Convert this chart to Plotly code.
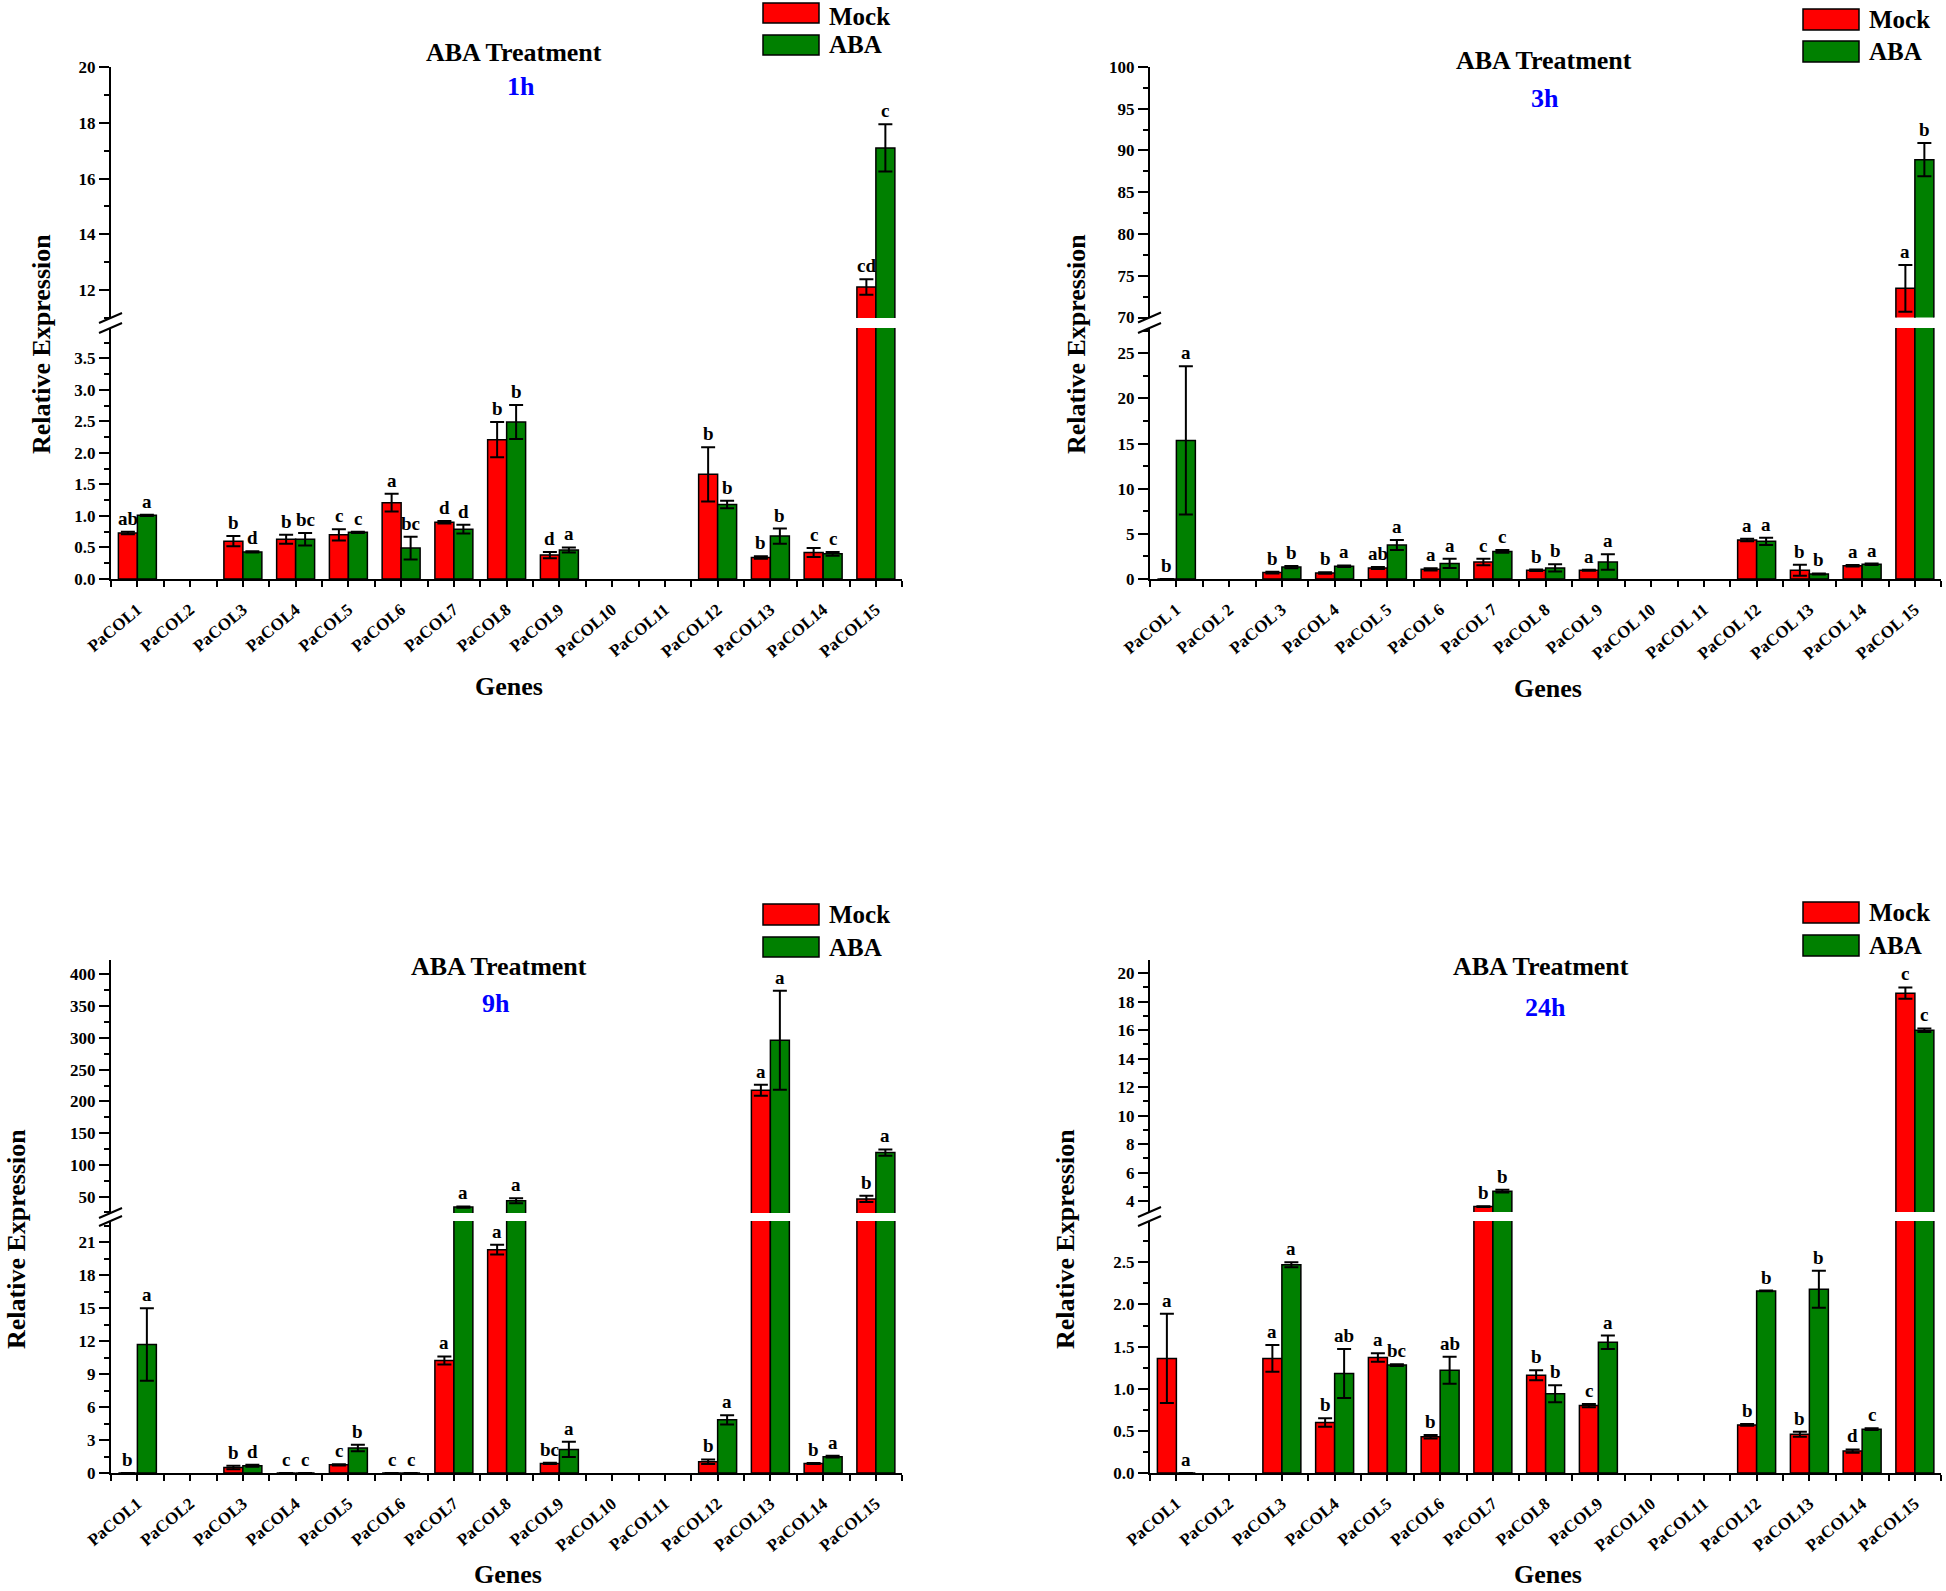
import plotly.graph_objects as go

W, H = 1946, 1591
FONT = "Liberation Serif"

# ---------------- data ----------------
genes = ["PaCOL1", "PaCOL2", "PaCOL3", "PaCOL4", "PaCOL5", "PaCOL6", "PaCOL7", "PaCOL8",
         "PaCOL9", "PaCOL10", "PaCOL11", "PaCOL12", "PaCOL13", "PaCOL14", "PaCOL15"]
genes_sp = ["PaCOL 1", "PaCOL 2", "PaCOL 3", "PaCOL 4", "PaCOL 5", "PaCOL 6", "PaCOL 7", "PaCOL 8",
            "PaCOL 9", "PaCOL 10", "PaCOL 11", "PaCOL 12", "PaCOL 13", "PaCOL 14", "PaCOL 15"]

# 1h
mock_1h = [0.73, None, 0.60, 0.63, 0.70, 1.21, 0.90, 2.21, 0.38, None, None, 1.66, 0.34, 0.42, 12.11]
mock_1h_err = [0.02, None, 0.08, 0.07, 0.09, 0.14, 0.02, 0.28, 0.05, None, None, 0.43, 0.02, 0.07, 0.28]
aba_1h = [1.01, None, 0.43, 0.63, 0.74, 0.49, 0.79, 2.49, 0.46, None, None, 1.18, 0.68, 0.40, 17.10]
aba_1h_err = [0.01, None, 0.01, 0.10, 0.01, 0.18, 0.07, 0.27, 0.04, None, None, 0.06, 0.12, 0.03, 0.85]
mock_1h_let = ["ab", "", "b", "b", "c", "a", "d", "b", "d", "", "", "b", "b", "c", "cd"]
aba_1h_let = ["a", "", "d", "bc", "c", "bc", "d", "b", "a", "", "", "b", "b", "c", "c"]

# 3h
mock_3h = [0, None, 0.71, 0.66, 1.22, 1.07, 1.88, 0.97, 0.97, None, None, 4.32, 0.97, 1.47, 73.5]
mock_3h_err = [0, None, 0.10, 0.08, 0.12, 0.12, 0.35, 0.08, 0.06, None, None, 0.15, 0.60, 0.08, 2.8]
aba_3h = [15.35, None, 1.32, 1.42, 3.76, 1.73, 3.05, 1.22, 1.88, None, None, 4.17, 0.56, 1.63, 88.9]
aba_3h_err = [8.2, None, 0.12, 0.08, 0.56, 0.50, 0.15, 0.40, 0.86, None, None, 0.40, 0.05, 0.08, 2.0]
mock_3h_let = ["b", "", "b", "b", "ab", "a", "c", "b", "a", "", "", "a", "b", "a", "a"]
aba_3h_let = ["a", "", "b", "a", "a", "a", "c", "b", "a", "", "", "a", "b", "a", "b"]

# 9h
mock_9h = [0, None, 0.50, 0, 0.74, 0, 10.25, 20.34, 0.87, None, None, 1.03, 217.5, 0.87, 46.4]
mock_9h_err = [0, None, 0.15, 0, 0.06, 0, 0.37, 0.45, 0.06, None, None, 0.20, 8.6, 0.05, 5.0]
aba_9h = [11.7, None, 0.66, 0, 2.27, 0, 33.5, 43.6, 2.15, None, None, 4.84, 296.2, 1.49, 119.4]
aba_9h_err = [3.3, None, 0.10, 0, 0.30, 0, 1.0, 4.0, 0.70, None, None, 0.42, 78.0, 0.07, 5.0]
mock_9h_let = ["b", "", "b", "c", "c", "c", "a", "a", "bc", "", "", "b", "a", "b", "b"]
aba_9h_let = ["a", "", "d", "c", "b", "c", "a", "a", "a", "", "", "a", "a", "a", "a"]

# 24h
mock_24h = [1.36, None, 1.36, 0.60, 1.37, 0.43, 3.62, 1.16, 0.80, None, None, 0.57, 0.46, 0.26, 18.6]
mock_24h_err = [0.53, None, 0.16, 0.05, 0.05, 0.02, 0.03, 0.06, 0.02, None, None, 0.01, 0.03, 0.02, 0.40]
aba_24h = [0, None, 2.47, 1.18, 1.28, 1.22, 4.70, 0.94, 1.55, None, None, 2.16, 2.18, 0.52, 16.0]
aba_24h_err = [0, None, 0.03, 0.29, 0.01, 0.16, 0.10, 0.10, 0.08, None, None, 0.005, 0.22, 0.01, 0.12]
mock_24h_let = ["a", "", "a", "b", "a", "b", "b", "b", "c", "", "", "b", "b", "d", "c"]
aba_24h_let = ["a", "", "a", "ab", "bc", "ab", "b", "b", "a", "", "", "b", "b", "c", "c"]

times = ["1h", "3h", "9h", "24h"]
series_names = ["Mock", "ABA"]

datasets = [
    dict(labels=genes, mock=mock_1h, mock_err=mock_1h_err, aba=aba_1h, aba_err=aba_1h_err,
         mock_let=mock_1h_let, aba_let=aba_1h_let),
    dict(labels=genes_sp, mock=mock_3h, mock_err=mock_3h_err, aba=aba_3h, aba_err=aba_3h_err,
         mock_let=mock_3h_let, aba_let=aba_3h_let),
    dict(labels=genes, mock=mock_9h, mock_err=mock_9h_err, aba=aba_9h, aba_err=aba_9h_err,
         mock_let=mock_9h_let, aba_let=aba_9h_let),
    dict(labels=genes, mock=mock_24h, mock_err=mock_24h_err, aba=aba_24h, aba_err=aba_24h_err,
         mock_let=mock_24h_let, aba_let=aba_24h_let),
]

# ---------------- geometry (pixels) ----------------
# leg = (box x0, box x1, mock box y0, y1, aba box y0, y1, text x, mock text y, aba text y)
geoms = [
    dict(x0=111, sp=52.75, up=(66.5, 318), lo=(328, 579),
         urange=[11.0, 20.02], udt=2, umin=1, ufmt="d",
         lrange=[0, 3.98], ldt=0.5, lmin=0.25, lfmt=".1f",
         title=(514, 52), sub=(521, 87), leg=(763, 819, 3, 23, 35, 55, 828, 17, 45),
         ytitle=(41, 344), xtitle=(509, 686)),
    dict(x0=1150, sp=52.75, up=(66.5, 317.5), lo=(328, 579),
         urange=[70, 100.05], udt=5, umin=2.5, ufmt="d",
         lrange=[0, 27.8], ldt=5, lmin=2.5, lfmt="d",
         title=(1544, 60), sub=(1545, 99), leg=(1803, 1859, 9, 30, 41, 62, 1868, 19.5, 51.5),
         ytitle=(1076, 344), xtitle=(1548, 688)),
    dict(x0=111, sp=52.75, up=(959.5, 1213), lo=(1221, 1473),
         urange=[24.2, 423.6], udt=50, umin=25, ufmt="d",
         lrange=[0, 22.95], ldt=3, lmin=1.5, lfmt="d",
         title=(499, 966), sub=(496, 1003), leg=(763, 819, 904, 925, 937, 957, 828, 914.5, 947),
         ytitle=(16, 1239), xtitle=(508, 1574)),
    dict(x0=1150, sp=52.75, up=(959.5, 1212), lo=(1221, 1473),
         urange=[3.24, 20.96], udt=2, umin=1, ufmt="d",
         lrange=[0, 2.99], ldt=0.5, lmin=0.25, lfmt=".1f",
         title=(1541, 966), sub=(1545, 1007), leg=(1803, 1859, 902, 923, 935, 956, 1868, 912.5, 945.5),
         ytitle=(1065, 1239), xtitle=(1548, 1574)),
]

RED = "#FF0000"
GREEN = "#008000"
BAR_OFF = 0.18


def px(x):
    return min(max(x / W, 0.0), 1.0)


def py(y):
    return min(max(1 - y / H, 0.0), 1.0)


def ax_name(kind, i):
    return kind if i == 1 else f"{kind}{i}"


fig = go.Figure()
layout = {}
annotations = []
shapes = []

tickfont = dict(family=FONT, size=17, color="black", weight="bold")

for p, (d, g) in enumerate(zip(datasets, geoms)):
    lo_i, up_i = 2 * p + 1, 2 * p + 2
    xs = list(range(len(d["labels"])))
    for name, color, vals, errs in [("Mock", RED, d["mock"], d["mock_err"]),
                                    ("ABA", GREEN, d["aba"], d["aba_err"])]:
        for ai in (lo_i, up_i):
            fig.add_trace(go.Bar(
                x=xs, y=vals, name=name,
                marker=dict(color=color, line=dict(color="black", width=1.5)),
                error_y=dict(type="data", array=errs, visible=True, color="black",
                             thickness=2, width=7),
                xaxis=ax_name("x", ai), yaxis=ax_name("y", ai),
                showlegend=False, hoverinfo="skip"))

    x1 = min(g["x0"] + 15 * g["sp"], W)
    xr = [-0.5, -0.5 + (x1 - g["x0"]) / g["sp"]]
    xdom = [px(g["x0"]), px(x1)]
    layout[ax_name("xaxis", lo_i)] = dict(
        domain=xdom, anchor=ax_name("y", lo_i), range=xr,
        tickmode="array", tickvals=xs, ticktext=d["labels"], tickangle=-40,
        ticks="outside", ticklen=6, tickwidth=2, tickcolor="black",
        showline=True, linewidth=2, linecolor="black", showgrid=False, zeroline=False,
        tickfont=tickfont, automargin=False, ticklabelstandoff=6,
        minor=dict(ticks="outside", tick0=-0.5, dtick=1, ticklen=6, tickwidth=2,
                   tickcolor="black", showgrid=False))
    layout[ax_name("xaxis", up_i)] = dict(
        domain=xdom, anchor=ax_name("y", up_i), range=xr, visible=False,
        showgrid=False, zeroline=False, automargin=False)
    common_y = dict(ticks="outside", ticklen=10, tickwidth=2, tickcolor="black",
                    showline=True, linewidth=2, linecolor="black", showgrid=False,
                    zeroline=False, tickfont=tickfont, automargin=False)
    layout[ax_name("yaxis", lo_i)] = dict(
        domain=[py(g["lo"][1]), py(g["lo"][0])], anchor=ax_name("x", lo_i),
        range=g["lrange"], tick0=0, dtick=g["ldt"], tickformat=g["lfmt"],
        minor=dict(ticks="outside", tick0=0, dtick=g["lmin"], ticklen=5, tickwidth=2,
                   tickcolor="black", showgrid=False),
        **common_y)
    layout[ax_name("yaxis", up_i)] = dict(
        domain=[py(g["up"][1]), py(g["up"][0])], anchor=ax_name("x", up_i),
        range=g["urange"], tick0=0, dtick=g["udt"], tickformat=g["ufmt"],
        minor=dict(ticks="outside", tick0=0, dtick=g["umin"], ticklen=5, tickwidth=2,
                   tickcolor="black", showgrid=False),
        **common_y)

    # significance letters
    ltop = g["lrange"][1]
    for vals, errs, lets, sgn in [(d["mock"], d["mock_err"], d["mock_let"], -1),
                                  (d["aba"], d["aba_err"], d["aba_let"], 1)]:
        for i, (v, e, t) in enumerate(zip(vals, errs, lets)):
            if v is None or not t:
                continue
            top = v + (e or 0)
            ai = lo_i if top <= ltop else up_i
            annotations.append(dict(
                x=i + sgn * BAR_OFF, y=top, xref=ax_name("x", ai), yref=ax_name("y", ai),
                text=t, showarrow=False, xanchor="center", yanchor="bottom", yshift=1,
                font=dict(family=FONT, size=19, color="black", weight="bold")))

    # break marks
    for yb in (g["up"][1], g["lo"][0]):
        shapes.append(dict(type="line", xref="paper", yref="paper",
                           x0=px(g["x0"] - 12), y0=py(yb + 5),
                           x1=px(g["x0"] + 11), y1=py(yb - 5),
                           line=dict(color="black", width=2)))

    # titles
    annotations.append(dict(x=px(g["title"][0]), y=py(g["title"][1]), xref="paper", yref="paper",
                            text="ABA Treatment", showarrow=False, xanchor="center", yanchor="middle",
                            font=dict(family=FONT, size=26, color="black", weight="bold")))
    annotations.append(dict(x=px(g["sub"][0]), y=py(g["sub"][1]), xref="paper", yref="paper",
                            text=times[p], showarrow=False, xanchor="center", yanchor="middle",
                            font=dict(family=FONT, size=26, color="#0000FF", weight="bold")))
    annotations.append(dict(x=px(g["ytitle"][0]), y=py(g["ytitle"][1]), xref="paper", yref="paper",
                            text="Relative Expression", textangle=-90, showarrow=False,
                            xanchor="center", yanchor="middle",
                            font=dict(family=FONT, size=26, color="black", weight="bold")))
    annotations.append(dict(x=px(g["xtitle"][0]), y=py(g["xtitle"][1]), xref="paper", yref="paper",
                            text="Genes", showarrow=False, xanchor="center", yanchor="middle",
                            font=dict(family=FONT, size=26, color="black", weight="bold")))

    # legend
    lx0, lx1, m0, m1, a0, a1, tx, mty, aty = g["leg"]
    for (y0, y1), ty, col, nm in [((m0, m1), mty, RED, series_names[0]),
                                  ((a0, a1), aty, GREEN, series_names[1])]:
        shapes.append(dict(type="rect", xref="paper", yref="paper",
                           x0=px(lx0), x1=px(lx1), y0=py(y1), y1=py(y0),
                           fillcolor=col, line=dict(color="black", width=1.5)))
        annotations.append(dict(x=px(tx), y=py(ty), xref="paper", yref="paper",
                                text=nm, showarrow=False, xanchor="left", yanchor="middle",
                                borderpad=0,
                                font=dict(family=FONT, size=25, color="black", weight="bold")))

fig.update_layout(
    width=W, height=H, margin=dict(l=0, r=0, t=0, b=0),
    paper_bgcolor="white", plot_bgcolor="white",
    barmode="group", bargap=0.28, bargroupgap=0,
    showlegend=False, font=dict(family=FONT, color="black"),
    annotations=annotations, shapes=shapes, **layout)

fig.write_html("out.html", config={"displayModeBar": False},
               post_script="document.body.style.margin='0';document.body.style.overflow='hidden';")
